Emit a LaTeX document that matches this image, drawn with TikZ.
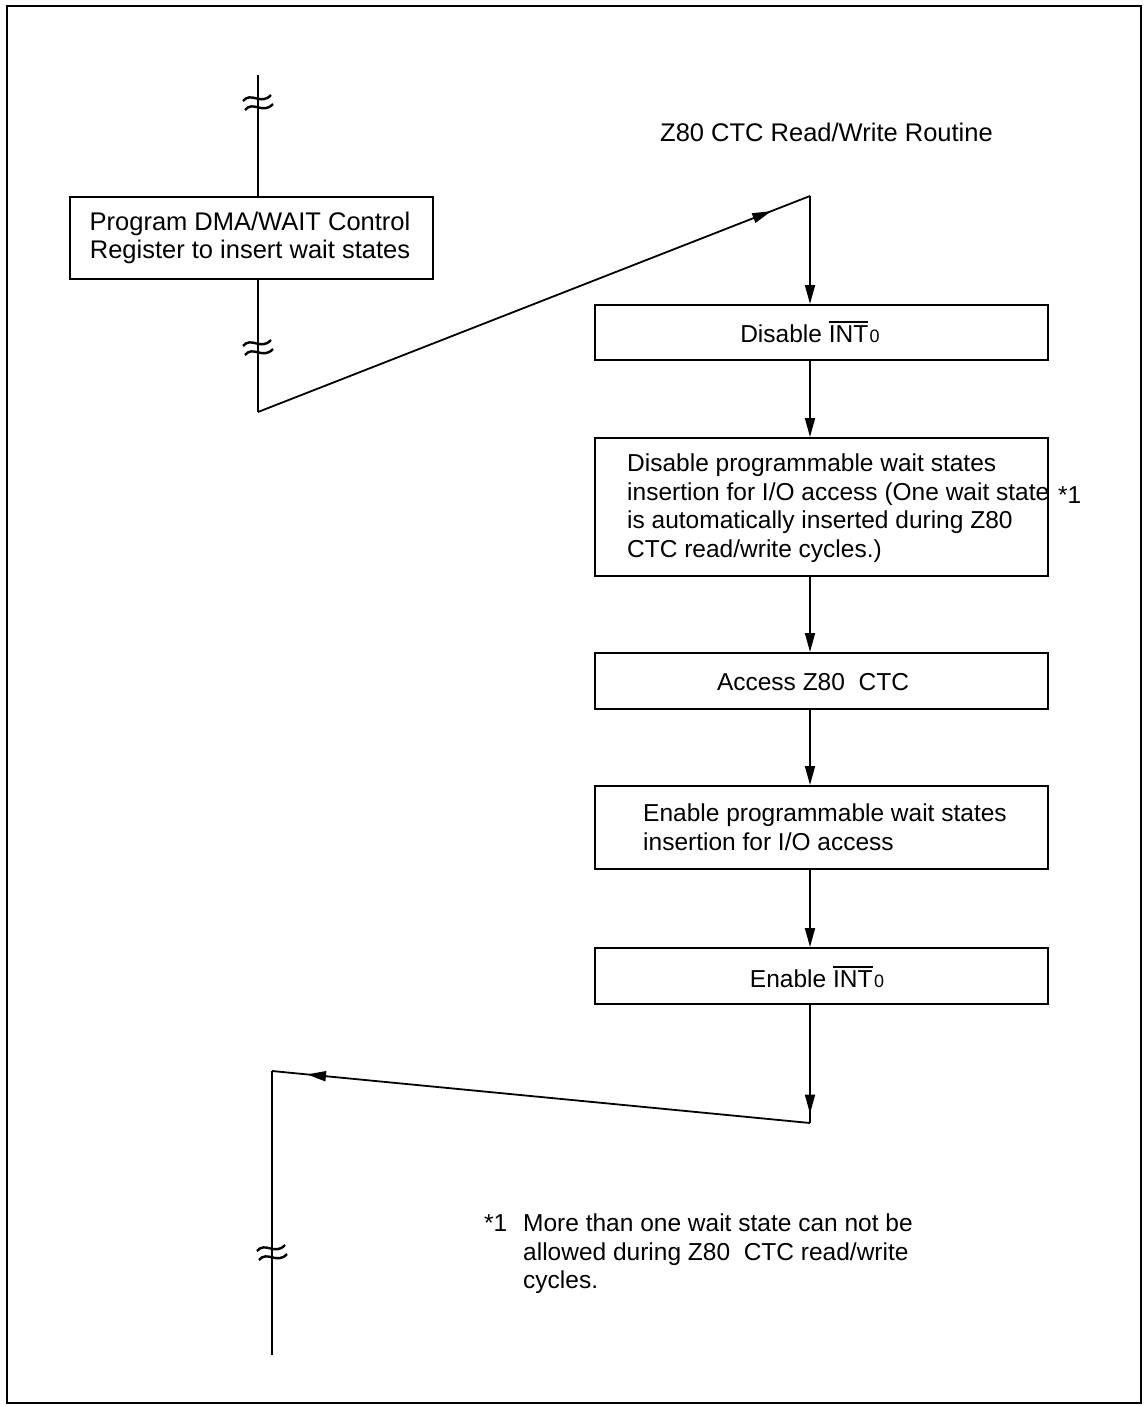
\documentclass[tikz,border=0pt]{standalone}
\usepackage{fontspec}
\setmainfont{Liberation Sans}
\usetikzlibrary{arrows.meta,decorations.markings}
\newsavebox\ovbox
\newcommand\ovl[1]{\sbox\ovbox{#1}\rlap{\rule[\dimexpr\ht\ovbox+2.5pt\relax]{\wd\ovbox}{1.4pt}}\usebox\ovbox}
\newcommand\zsub{\hspace{1.5pt}{\fontsize{18}{18}\selectfont 0}}
\tikzset{
  every node/.style={font=\fontsize{24.5}{28.5}\selectfont},
  box/.style={draw,line width=2.2,inner sep=0,anchor=north west},
  txt/.style={inner sep=0},
  ln/.style={line width=1.8},
  tip/.style={-{Triangle[length=19pt,width=10pt]}},
  midarrow/.style={postaction={decorate},decoration={markings,mark=at position #1 with {\arrow{Triangle[length=19pt,width=10pt]}}}},
  brk/.pic={
    \draw[line width=2.4] (-15,2) .. controls (-7,-8) and (3,7) .. (13,-4);
    \draw[line width=2.4] (-13,11) .. controls (-5,1) and (5,16) .. (15,5);
  }
}
\begin{document}
\begin{tikzpicture}[x=1pt,y=-1pt]
\useasboundingbox (0,0) rectangle (1145,1406);
\draw[line width=2.2] (7,6) rectangle (1141,1403);

% boxes
\node[box,minimum width=363pt,minimum height=82pt] (b1) at (69,196) {};
\node[box,minimum width=453pt,minimum height=55pt] (b2) at (594,304) {};
\node[box,minimum width=453pt,minimum height=138pt] (b3) at (594,437) {};
\node[box,minimum width=453pt,minimum height=56pt] (b4) at (594,652) {};
\node[box,minimum width=453pt,minimum height=83pt] (b5) at (594,785) {};
\node[box,minimum width=453pt,minimum height=56pt] (b6) at (594,947) {};

% texts
\node[txt,anchor=north,align=center,font=\fontsize{25.5}{27.5}\selectfont] (t1) at (250,212) {Program DMA/WAIT Control\\Register to insert wait states};
\node[txt,anchor=base] (t2) at (810,342) {Disable \ovl{INT}\zsub};
\node[txt,anchor=north west,align=left] (t3) at (627,454) {Disable programmable wait states\\insertion for I/O access (One wait state\\is automatically inserted during Z80\\CTC read/write cycles.)};
\node[txt,anchor=base] (t4) at (813,690) {Access Z80\ \ CTC};
\node[txt,anchor=north west,align=left] (t5) at (643,804) {Enable programmable wait states\\insertion for I/O access};
\node[txt,anchor=base] (t6) at (817,987) {Enable \ovl{INT}\zsub};
\node[txt,anchor=base west,font=\fontsize{25.5}{28.5}\selectfont] (title) at (660,141) {Z80 CTC Read/Write Routine};
\node[txt,anchor=base west] (n1) at (1058,503) {*1};
\node[txt,anchor=north west,align=left] (fn) at (523,1214) {\llap{*1\hspace{16pt}}More than one wait state can not be\\allowed during Z80\ \ CTC read/write\\cycles.};

% coordinates
\coordinate (s1) at (258,75);
\coordinate (c1) at (258,412);
\coordinate (c2) at (810,196);
\coordinate (c3) at (810,1123);
\coordinate (c4) at (272,1071);
\coordinate (e1) at (272,1355);

% connectors
\draw[ln] (s1) -- (b1.north -| s1);
\draw[ln] (b1.south -| c1) -- (c1);
\draw[ln,midarrow=0.93] (c1) -- (c2);
\draw[ln,tip] (c2) -- (b2.north -| c2);
\draw[ln,tip] (b2.south -| c2) -- (b3.north -| c2);
\draw[ln,tip] (b3.south -| c2) -- (b4.north -| c2);
\draw[ln,tip] (b4.south -| c2) -- (b5.north -| c2);
\draw[ln,tip] (b5.south -| c2) -- (b6.north -| c2);
\draw[ln,midarrow=0.92] (b6.south -| c3) -- (c3);
\draw[ln,midarrow=0.935] (c3) -- (c4);
\draw[ln] (c4) -- (e1);

% break marks
\pic at (258,99) {brk};
\pic at (258,344) {brk};
\pic at (272,1249) {brk};
\end{tikzpicture}
\end{document}
